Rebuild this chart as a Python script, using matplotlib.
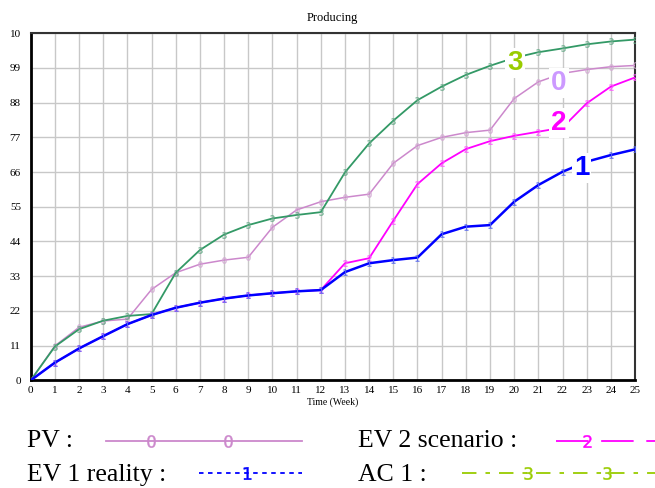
import matplotlib

matplotlib.use('Agg')
import matplotlib.pyplot as plt
from matplotlib.lines import Line2D

plt.rcParams['font.family'] = ['Liberation Serif', 'DejaVu Serif']

# 数据
weeks = list(range(26))
pv = [0, 10.9, 16.8, 18.8, 19.4, 28.8, 34.1, 36.8, 38.1, 39.0, 48.5, 54.0, 56.6,
      58.0, 59.0, 68.8, 74.4, 77.0, 78.5, 79.3, 89.3, 94.6, 97.3, 98.5, 99.4, 99.8]
ev1_reality = [0, 5.6, 10.1, 14.0, 17.8, 20.7, 23.0, 24.6, 25.9, 26.9, 27.6, 28.2, 28.6,
               34.3, 37.1, 38.1, 38.9, 46.3, 48.7, 49.2, 56.6, 61.9, 66.1, 69.3, 71.4, 73.2]
ev2_scenario = [0, 5.6, 10.1, 14.0, 17.8, 20.7, 23.0, 24.6, 25.9, 26.9, 27.6, 28.2, 28.6,
                37.1, 38.7, 50.6, 62.2, 68.8, 73.3, 75.8, 77.5, 78.8, 80.1, 87.8, 93.1, 96.0]
ac1 = [0, 10.7, 16.2, 18.9, 20.4, 21.0, 34.1, 41.3, 46.2, 49.2, 51.3, 52.4, 53.3,
       65.9, 75.1, 82.3, 88.8, 93.1, 96.8, 99.7, 102.2, 104.0, 105.2, 106.5, 107.4, 108.0]

y_ticks = [0, 11, 22, 33, 44, 55, 66, 77, 88, 99, 110]
y_tick_labels = ['0', '11', '22', '33', '44', '55', '66', '77', '88', '99', '10']

fig = plt.figure(figsize=(6.55, 4.88), dpi=100)
ax = fig.add_axes([0.0469, 0.2207, 0.9226, 0.7111])

# 曲线（带数字标记）
mk = dict(ms=4.5, mew=0.2, markevery=list(range(1, 26)))
ax.plot(weeks, pv, color='#cc88cc', lw=1.1, marker='$0$', mfc='#d4a8d4', mec='#d4a8d4',
        zorder=3, **mk)
ax.plot(weeks, ac1, color='#339966', lw=1.3, marker='$3$', mfc='#66aa88', mec='#66aa88',
        zorder=4, **mk)
ax.plot(weeks, ev2_scenario, color='#ff00ff', lw=1.3, marker='$2$', mfc='#ff55ff',
        mec='#ff55ff', zorder=5, **mk)
ax.plot(weeks, ev1_reality, color='#0000ff', lw=1.8, marker='$1$', mfc='#5566ee',
        mec='#5566ee', zorder=6, **mk)

# 曲线上的大号编号
big = dict(fontsize=20, fontweight='bold', family='Liberation Sans', ha='center',
           va='center', zorder=10,
           bbox=dict(facecolor='white', edgecolor='none', pad=1.5))
ax.text(20.04, 100.6, '3', color='#99cc00', **big)
ax.text(21.86, 94.2, '0', color='#cc99ff', **big)
ax.text(21.86, 81.6, '2', color='#ff00ff', **big)
ax.text(22.8, 67.3, '1', color='#0000ff', **big)

ax.set_xlim(0, 25)
ax.set_ylim(0, 110)
ax.set_xticks(weeks)
ax.set_yticks(y_ticks)
ax.set_yticklabels(y_tick_labels)
ax.tick_params(length=0, labelsize=8, pad=7)
ax.tick_params(axis='x', pad=4)
ax.grid(True, color='#c8c8c8', lw=1)
ax.set_axisbelow(True)
for side in ['left', 'bottom']:
    ax.spines[side].set_linewidth(2)
    ax.spines[side].set_color('black')
for side in ['top', 'right']:
    ax.spines[side].set_linewidth(1.5)
    ax.spines[side].set_color('#333333')

fig.text(0.507, 0.963, 'Producing', ha='center', va='center', fontsize=9)
fig.text(0.508, 0.176, 'Time (Week)', ha='center', va='center', fontsize=7)

# 底部图例（手工绘制）
W, H = 655.0, 488.0


def legend_line(x0, x1, y, color, ls, marker, marks):
    xs = [x0 / W] + [m / W for m in marks] + [x1 / W]
    ys = [1 - y / H] * len(xs)
    fig.add_artist(Line2D(xs, ys, color=color, lw=1.3, ls=ls, marker=marker,
                          ms=9, mew=0.3, markevery=list(range(1, len(marks) + 1))))


fig.text(27 / W, 1 - 441 / H, 'PV :', fontsize=18.5, va='center')
legend_line(106, 302, 441, '#cc88cc', '-', '$0$', [151, 228])
fig.text(27 / W, 1 - 475 / H, 'EV 1 reality :', fontsize=18.5, va='center')
legend_line(199, 302, 473, '#0000ff', (0, (2.5, 2.5)), '$1$', [247])
fig.text(358 / W, 1 - 441 / H, 'EV 2 scenario :', fontsize=18.5, va='center')
legend_line(556, 700, 441, '#ff00ff', (0, (18, 7)), '$2$', [587])
fig.text(358 / W, 1 - 475 / H, 'AC 1 :', fontsize=18.5, va='center')
legend_line(462, 700, 473, '#99cc00', (0, (8, 5, 2.5, 5)), '$3$', [528, 607])

fig.savefig('out.png', dpi=100)
plt.close(fig)
